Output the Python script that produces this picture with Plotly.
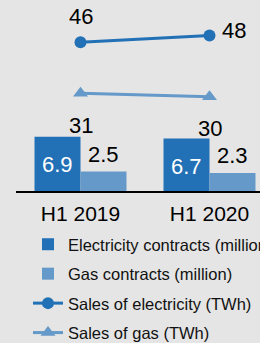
import plotly.graph_objects as go

categories = ["H1 2019", "H1 2020"]
elec_contracts = [6.9, 6.7]
gas_contracts = [2.5, 2.3]
elec_sales = [46, 48]
gas_sales = [31, 30]

DARK = "#2271b6"
LIGHT = "#6499c9"
BG = "#e5e5e5"
FONT = "Liberation Sans, Arial, sans-serif"
LBL = 22

fig = go.Figure()
fig.add_trace(go.Bar(
    x=categories, y=elec_contracts, name="Electricity contracts (million)",
    marker=dict(color=DARK, line=dict(width=0)),
    legendgroup="a", hoverinfo="skip"))
fig.add_trace(go.Bar(
    x=categories, y=gas_contracts, name="Gas contracts (million)",
    marker=dict(color=LIGHT, line=dict(width=0)),
    legendgroup="b", hoverinfo="skip"))
fig.add_trace(go.Scatter(
    x=categories, y=elec_sales, name="Sales of electricity (TWh)", yaxis="y2",
    mode="lines+markers", line=dict(color=DARK, width=3),
    marker=dict(symbol="circle", size=12, color=DARK),
    legendgroup="c", hoverinfo="skip", cliponaxis=False))
fig.add_trace(go.Scatter(
    x=categories, y=gas_sales, name="Sales of gas (TWh)", yaxis="y2",
    mode="lines+markers", line=dict(color=LIGHT, width=3),
    marker=dict(symbol="triangle-up", size=13, color=LIGHT),
    legendgroup="d", hoverinfo="skip", cliponaxis=False))

annotations = []
# electricity contract labels, white, inside the dark bars
for c, v in zip(categories, elec_contracts):
    annotations.append(dict(x=c, y=v, xref="x", yref="y", text=f"{v}",
                            showarrow=False, xshift=-23, yshift=-28,
                            yanchor="middle", font=dict(size=LBL, color="white", family=FONT)))
# gas contract labels above light bars
for c, v in zip(categories, gas_contracts):
    annotations.append(dict(x=c, y=v, xref="x", yref="y", text=f"{v}",
                            showarrow=False, xshift=23, yshift=17,
                            yanchor="middle", font=dict(size=LBL, color="black", family=FONT)))
annotations.append(dict(x=categories[0], y=elec_sales[0], xref="x", yref="y2",
                        text=str(elec_sales[0]), showarrow=False, yshift=26,
                        yanchor="middle", font=dict(size=LBL, color="black", family=FONT)))
annotations.append(dict(x=categories[1], y=elec_sales[1], xref="x", yref="y2",
                        text=str(elec_sales[1]), showarrow=False, xshift=24, yshift=5,
                        yanchor="middle", font=dict(size=LBL, color="black", family=FONT)))
for c, v in zip(categories, gas_sales):
    annotations.append(dict(x=c, y=v, xref="x", yref="y2", text=str(v),
                            showarrow=False, yshift=-32, yanchor="middle",
                            font=dict(size=LBL, color="black", family=FONT)))

fig.update_layout(
    width=260, height=343,
    margin=dict(l=16, r=0, t=0, b=152, pad=0, autoexpand=False),
    paper_bgcolor=BG, plot_bgcolor=BG,
    barmode="group", bargap=0.287, bargroupgap=0,
    font=dict(family=FONT, color="black"),
    showlegend=True,
    legend=dict(xref="container", yref="container", x=28/260, y=1-227/343,
                xanchor="left", yanchor="top", bgcolor="rgba(0,0,0,0)",
                font=dict(size=16.5, color="#111111", family=FONT),
                traceorder="grouped", tracegroupgap=5, itemwidth=30),
    xaxis=dict(type="category", range=[-0.5, 1.3915], showline=True, linecolor="black",
               linewidth=2, showgrid=False, zeroline=False, ticks="",
               ticklabelstandoff=3,
               tickfont=dict(size=21, color="black", family=FONT), automargin=False),
    yaxis=dict(range=[0, 191/7.85], visible=False, showgrid=False, zeroline=False),
    yaxis2=dict(range=[2.33, 58.39], overlaying="y", visible=False,
                showgrid=False, zeroline=False),
    annotations=annotations,
)

fig.write_html("out.html", config={"displayModeBar": False},
               post_script="document.body.style.margin='0';document.body.style.overflow='hidden';")
